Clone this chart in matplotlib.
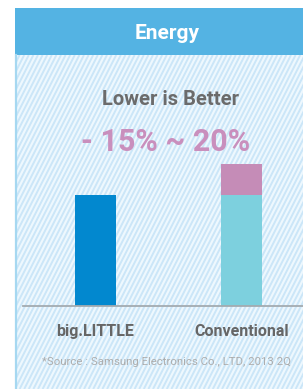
import numpy as np
import matplotlib.pyplot as plt
from matplotlib.patches import Rectangle
from matplotlib.collections import LineCollection

# data
categories = ['big.LITTLE', 'Conventional']
base_values = [100, 100]
extra_values = [0, 28]

title = 'Energy'
subtitle = 'Lower is Better'
saving_text = '- 15% ~ 20%'
source_text = '*Source : Samsung Electronics Co., LTD, 2013 2Q'

fam = ['Roboto', 'DejaVu Sans']

W, H = 303, 389
fig = plt.figure(figsize=(W / 100, H / 100), dpi=100)
fig.patch.set_facecolor('white')

# background axes in pixel coordinates
bg = fig.add_axes([0, 0, 1, 1])
bg.set_xlim(0, W)
bg.set_ylim(H, 0)
bg.axis('off')

panel = Rectangle((15, 55), W - 15, H - 55, facecolor='#eef8fe', edgecolor='none')
bg.add_patch(panel)
# diagonal stripes
ang = np.deg2rad(63)
dx = (H - 55) / np.tan(ang)
segs = [[(x0, H), (x0 + dx, 55)] for x0 in np.arange(15 - dx, W + 5, 4.6)]
lc = LineCollection(segs, colors='#cbe6f8', linewidths=1.4)
bg.add_collection(lc)
lc.set_clip_path(panel)
bg.add_patch(Rectangle((15, 8), W - 15, 47, facecolor='#54b3e3', edgecolor='none'))
bg.plot([15.8, 15.8], [55, H], color='#a6d8f1', lw=1.6)

bg.text(167, 33, title, color='white', fontsize=15, fontweight='bold',
        ha='center', va='center', family=fam)
bg.text(170, 99, subtitle, color='#6b6b6b', fontsize=14.5, fontweight='bold',
        ha='center', va='center', family=fam)
bg.text(166, 142, saving_text, color='#c98fbd', fontsize=22, fontweight='bold',
        ha='center', va='center', family=fam)
bg.text(167, 362, source_text, color='#adadad', fontsize=8.2,
        ha='center', va='center', family=fam)

# bar axes
ax = fig.add_axes([23 / W, (H - 306) / H, 280 / W, 250 / H])
ax.patch.set_alpha(0)
x = np.arange(len(categories))
ax.bar(x, base_values, width=0.28, color=['#0288cf', '#7dd0de'])
ax.bar(x, extra_values, bottom=base_values, width=0.28, color='#c58cb7')
ax.set_xlim(-0.497, 1.421)
ax.set_ylim(0, 225.2)
for s in ['left', 'right', 'top']:
    ax.spines[s].set_visible(False)
ax.spines['bottom'].set_color('#a3abb0')
ax.spines['bottom'].set_linewidth(1.3)
ax.set_yticks([])
ax.set_xticks(x)
ax.set_xticklabels(categories, color='#666666', fontsize=11.5, fontweight='bold', family=fam)
ax.tick_params(axis='x', length=0, pad=13)

fig.savefig('out.png', dpi=100)
